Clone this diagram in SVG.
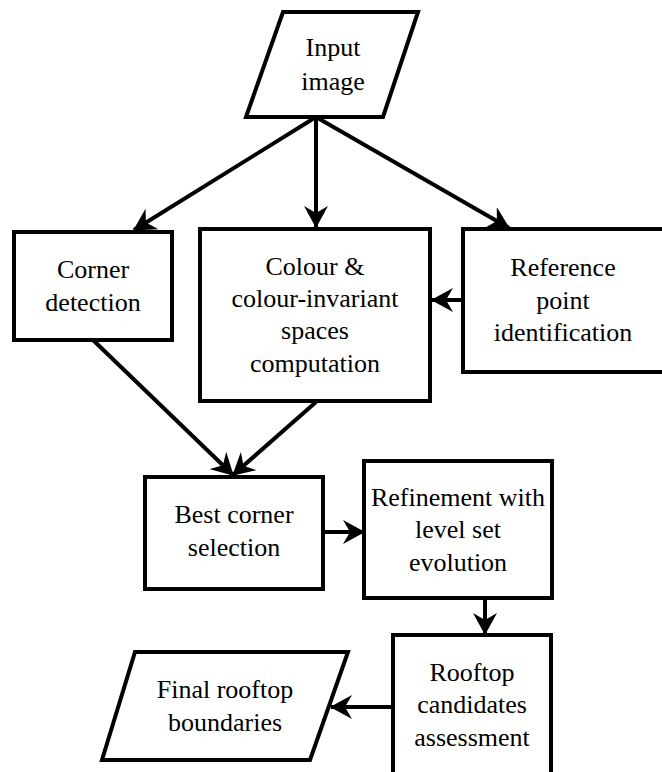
<svg xmlns="http://www.w3.org/2000/svg" width="662" height="772" viewBox="0 0 662 772">
<defs>
<marker id="ah" viewBox="0 0 22 24" refX="21" refY="12" markerWidth="22" markerHeight="24" markerUnits="userSpaceOnUse" orient="auto">
<path d="M0,0 L22,12 L0,24 L7,12 Z" fill="#000"/>
</marker>
</defs>
<style>
.s{fill:#fff;stroke:#000;stroke-width:4}
.c{stroke:#000;stroke-width:4;fill:none;marker-end:url(#ah)}
.t{font-family:"Liberation Serif","Times New Roman",serif;font-size:26px;text-anchor:middle;fill:#000}
</style>
<rect width="662" height="772" fill="#fff"/>
<g id="connectors">
<line class="c" x1="316" y1="117" x2="134" y2="230"/>
<line class="c" x1="316" y1="117" x2="316" y2="227"/>
<line class="c" x1="316" y1="117" x2="509" y2="228"/>
<line class="c" x1="463" y1="300" x2="432" y2="300"/>
<line class="c" x1="93" y1="340" x2="233" y2="475"/>
<line class="c" x1="316" y1="402" x2="233" y2="475"/>
<line class="c" x1="323" y1="532" x2="364" y2="532"/>
<line class="c" x1="485" y1="598" x2="485" y2="634"/>
<line class="c" x1="393" y1="707" x2="331" y2="707"/>
</g>
<g id="input">
<polygon class="s" points="283,12 418,12 383,117 246,117"/>
<text class="t" font-family="Liberation Serif" x="333" y="56">Input</text>
<text class="t" font-family="Liberation Serif" x="333" y="90">image</text>
</g>
<g id="corner">
<rect class="s" x="14" y="232" width="158" height="108"/>
<text class="t" font-family="Liberation Serif" x="93" y="278">Corner</text>
<text class="t" font-family="Liberation Serif" x="93" y="311">detection</text>
</g>
<g id="colour">
<rect class="s" x="200" y="229" width="230" height="172"/>
<text class="t" font-family="Liberation Serif" x="315" y="275">Colour &amp;</text>
<text class="t" font-family="Liberation Serif" x="315" y="307">colour-invariant</text>
<text class="t" font-family="Liberation Serif" x="315" y="339">spaces</text>
<text class="t" font-family="Liberation Serif" x="315" y="372">computation</text>
</g>
<g id="reference">
<rect class="s" x="463" y="229" width="202" height="143"/>
<text class="t" font-family="Liberation Serif" x="563" y="276">Reference</text>
<text class="t" font-family="Liberation Serif" x="563" y="309">point</text>
<text class="t" font-family="Liberation Serif" x="563" y="341">identification</text>
</g>
<g id="best">
<rect class="s" x="145" y="477" width="178" height="112"/>
<text class="t" font-family="Liberation Serif" x="234" y="523">Best corner</text>
<text class="t" font-family="Liberation Serif" x="234" y="556">selection</text>
</g>
<g id="refine">
<rect class="s" x="364" y="461" width="188" height="137"/>
<text class="t" font-family="Liberation Serif" x="458" y="506">Refinement with</text>
<text class="t" font-family="Liberation Serif" x="458" y="538">level set</text>
<text class="t" font-family="Liberation Serif" x="458" y="571">evolution</text>
</g>
<g id="rooftop">
<rect class="s" x="393" y="635" width="158" height="145"/>
<text class="t" font-family="Liberation Serif" x="472" y="681">Rooftop</text>
<text class="t" font-family="Liberation Serif" x="472" y="713">candidates</text>
<text class="t" font-family="Liberation Serif" x="472" y="746">assessment</text>
</g>
<g id="final">
<polygon class="s" points="135,652 348,652 310,760 102,760"/>
<text class="t" font-family="Liberation Serif" x="225" y="698">Final rooftop</text>
<text class="t" font-family="Liberation Serif" x="225" y="731">boundaries</text>
</g>
</svg>
